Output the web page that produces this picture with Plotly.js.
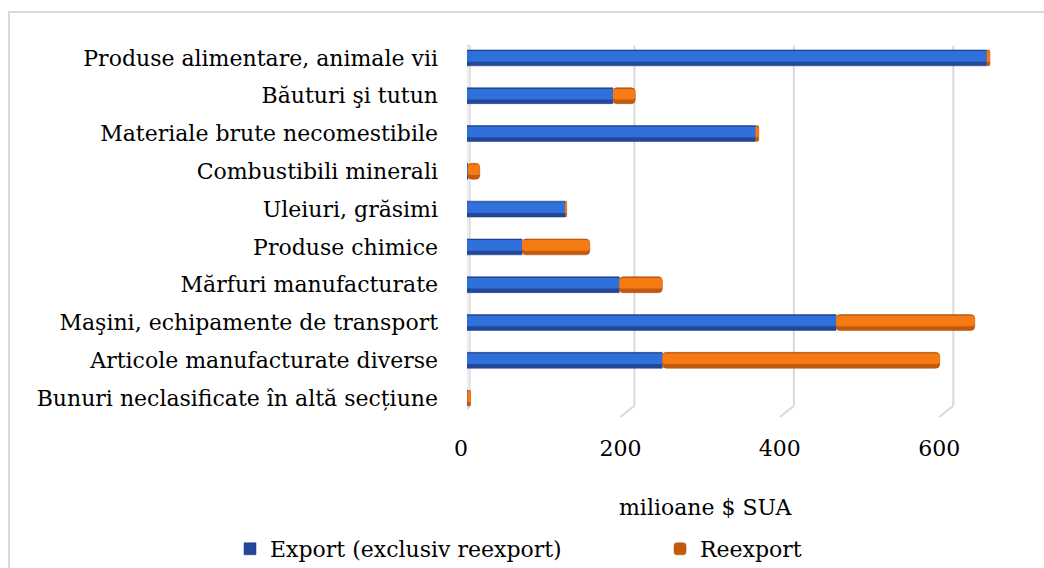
<!DOCTYPE html>
<html>
<head>
<meta charset="utf-8">
<script src="https://cdn.plot.ly/plotly-3.0.1.min.js"></script>
<style>
  html, body { margin:0; padding:0; background:#ffffff; overflow:hidden; }
  #wrap { position:relative; width:1044px; height:568px; overflow:hidden; }
  #frame { position:absolute; left:8px; top:11px; width:1100px; height:600px; border:2px solid #d9d9d9; box-sizing:border-box; }
  #chart { position:absolute; left:0; top:0; width:1044px; height:568px; }
</style>
</head>
<body>
<div id="wrap"><div id="frame"></div><div id="chart"></div></div>
<script>
// ---- data ----
const categories = [
  "Produse alimentare, animale vii",
  "Băuturi şi tutun",
  "Materiale brute necomestibile",
  "Combustibili minerali",
  "Uleiuri, grăsimi",
  "Produse chimice",
  "Mărfuri manufacturate",
  "Maşini, echipamente de transport",
  "Articole manufacturate diverse",
  "Bunuri neclasificate în altă secțiune"
];
const exportVals   = [652, 183, 362, 1, 123, 69, 191, 463, 245, 0.5];
const reexportVals = [4, 28, 4, 15, 2, 85, 54, 174, 348, 4];
const seriesNames = ["Export (exclusiv reexport)", "Reexport"];
const tickVals = [0, 200, 400, 600];
const axisTitle = "milioane $ SUA";

const FONT = "DejaVu Serif";
const FS = 22;
const BW = 0.42;

const blueDark = "#22479b", blueLight = "#3070da";
const orDark = "#c35a0b", orLight = "#f77b15";

const traces = [
  {type:"bar", orientation:"h", name:seriesNames[0], y:categories, x:exportVals, base:0,
   width:BW, marker:{color:blueDark, line:{color:"#1d3a7e", width:0.5}}, legend:"legend"},
  {type:"bar", orientation:"h", name:seriesNames[1], y:categories, x:reexportVals, base:exportVals,
   width:BW, marker:{color:orDark, line:{color:"#a84c0a", width:0.5}, cornerradius:4}, legend:"legend2"},
  {type:"bar", orientation:"h", y:categories, x:exportVals, base:0,
   width:0.28, offset:-0.18, marker:{color:blueLight, line:{width:0}}, showlegend:false, hoverinfo:"skip"},
  {type:"bar", orientation:"h", y:categories, x:reexportVals, base:exportVals,
   width:0.28, offset:-0.18, marker:{color:orLight, line:{width:0}, cornerradius:3}, showlegend:false, hoverinfo:"skip"}
];

// 3D-like gridlines from tick values
const shapes = [];
tickVals.forEach(v => {
  if (v === 0) {
    shapes.push({type:"rect", xref:"x", yref:"paper", xsizemode:"pixel", xanchor:v,
      x0:-7, x1:3, y0:0.03, y1:0.982, fillcolor:"#eeeeee", line:{color:"#d0d0d0", width:1}, layer:"below"});
    shapes.push({type:"line", xref:"x", yref:"paper", xsizemode:"pixel", xanchor:v,
      x0:3, x1:-7, y0:0.03, y1:0.0, line:{color:"#d0d0d0", width:1.5}, layer:"below"});
  } else {
    shapes.push({type:"line", xref:"x", yref:"paper", xsizemode:"pixel", xanchor:v,
      x0:8, x1:8, y0:0.03, y1:0.982, line:{color:"#d9d9d9", width:2}, layer:"below"});
    shapes.push({type:"line", xref:"x", yref:"paper", xsizemode:"pixel", xanchor:v,
      x0:8, x1:-6, y0:0.03, y1:0.0, line:{color:"#d9d9d9", width:2}, layer:"below"});
  }
});

const layout = {
  width:1044, height:568,
  margin:{l:467, r:19, t:39, b:151},
  paper_bgcolor:"rgba(0,0,0,0)", plot_bgcolor:"rgba(0,0,0,0)",
  barmode:"overlay",
  font:{family:FONT, size:FS, color:"#000000"},
  xaxis:{range:[0,700], tickvals:tickVals, showgrid:false, zeroline:false, showline:false,
         ticks:"", ticklabelshift:-6, ticklabelstandoff:16, tickfont:{family:FONT, size:FS}},
  yaxis:{autorange:"reversed", showgrid:false, zeroline:false, showline:false, ticks:"",
         ticklabelstandoff:28, tickfont:{family:FONT, size:FS}},
  shapes:shapes,
  annotations:[{text:axisTitle, xref:"paper", yref:"paper", x:0.428, y:-0.2407,
    xanchor:"center", yanchor:"middle", showarrow:false, font:{family:FONT, size:FS}}],
  legend:{orientation:"h", xref:"container", yref:"container", x:0.2203, y:0.0335,
          xanchor:"left", yanchor:"middle", font:{family:FONT, size:FS}, bgcolor:"rgba(0,0,0,0)"},
  legend2:{orientation:"h", xref:"container", yref:"container", x:0.6322, y:0.0335,
          xanchor:"left", yanchor:"middle", font:{family:FONT, size:FS}, bgcolor:"rgba(0,0,0,0)"},
  showlegend:true
};

Plotly.newPlot("chart", traces, layout, {staticPlot:true, displayModeBar:false});
</script>
</body>
</html>
